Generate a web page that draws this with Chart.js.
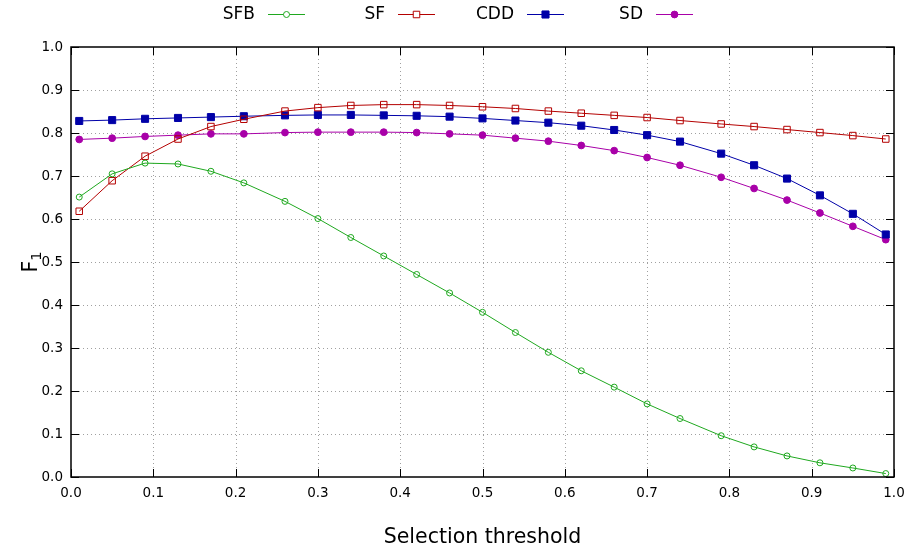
<!DOCTYPE html>
<html>
<head>
<meta charset="utf-8">
<script src="https://cdn.jsdelivr.net/npm/chart.js@4/dist/chart.umd.min.js"></script>
<style>
  html, body { margin: 0; padding: 0; background: #fff; }
  #wrap { width: 906px; height: 549px; position: relative; }
</style>
</head>
<body>
<div id="wrap"><canvas id="c" width="906" height="549"></canvas></div>
<script>
// ---- Data ----
const thresholds = [0.01, 0.05, 0.09, 0.13, 0.17, 0.21, 0.26, 0.30, 0.34, 0.38, 0.42, 0.46, 0.50, 0.54, 0.58, 0.62, 0.66, 0.70, 0.74, 0.79, 0.83, 0.87, 0.91, 0.95, 0.99];
const sfb = [0.651, 0.705, 0.730, 0.728, 0.711, 0.684, 0.641, 0.601, 0.557, 0.514, 0.471, 0.428, 0.383, 0.336, 0.290, 0.247, 0.209, 0.170, 0.136, 0.096, 0.070, 0.049, 0.033, 0.021, 0.008];
const sf  = [0.618, 0.689, 0.746, 0.786, 0.815, 0.832, 0.851, 0.859, 0.864, 0.866, 0.866, 0.864, 0.861, 0.857, 0.851, 0.846, 0.841, 0.836, 0.829, 0.821, 0.815, 0.808, 0.801, 0.794, 0.786];
const cdd = [0.828, 0.830, 0.833, 0.835, 0.837, 0.839, 0.841, 0.842, 0.842, 0.841, 0.840, 0.838, 0.834, 0.829, 0.824, 0.817, 0.807, 0.795, 0.780, 0.752, 0.725, 0.694, 0.655, 0.612, 0.564];
const sd  = [0.785, 0.788, 0.792, 0.795, 0.798, 0.798, 0.801, 0.802, 0.802, 0.802, 0.801, 0.798, 0.795, 0.788, 0.781, 0.771, 0.759, 0.743, 0.725, 0.697, 0.671, 0.644, 0.614, 0.583, 0.552];
const seriesNames = ['SFB', 'SF', 'CDD', 'SD'];
const xTitle = 'Selection threshold';
const yTitleMain = 'F';
const yTitleSub = '1';

const toPts = arr => arr.map((v, i) => ({ x: thresholds[i], y: v }));

const FONT = "'DejaVu Sans', sans-serif";

const styles = [
  { color: '#1fa81f', pointStyle: 'circle', radius: 3, fill: false },
  { color: '#b40000', pointStyle: 'rect', radius: 4.6, fill: false },
  { color: '#0000a8', pointStyle: 'rect', radius: 5, fill: true },
  { color: '#a800a8', pointStyle: 'circle', radius: 3.4, fill: true }
];
const seriesData = [sfb, sf, cdd, sd];

const datasets = seriesData.map((arr, i) => ({
  label: seriesNames[i],
  data: toPts(arr),
  borderColor: styles[i].color,
  backgroundColor: styles[i].fill ? styles[i].color : 'rgba(0,0,0,0)',
  pointBackgroundColor: styles[i].fill ? styles[i].color : '#ffffff00',
  pointBorderColor: styles[i].color,
  pointStyle: styles[i].pointStyle,
  pointRadius: styles[i].radius,
  pointBorderWidth: 1,
  borderWidth: 1,
  tension: 0,
  fill: false
}));

const framePlugin = {
  id: 'frame',
  beforeDatasetsDraw(chart) {
    const { ctx, chartArea: a, scales: { x, y } } = chart;
    ctx.save();
    ctx.strokeStyle = '#a0a0a0';
    ctx.lineWidth = 1;
    ctx.setLineDash([1, 3]);
    x.ticks.forEach(t => {
      if (t.value <= 0.0001 || t.value >= 0.9999) return;
      const px = Math.round(x.getPixelForValue(t.value)) + 0.5;
      ctx.beginPath(); ctx.moveTo(px, a.top); ctx.lineTo(px, a.bottom); ctx.stroke();
    });
    y.ticks.forEach(t => {
      if (t.value <= 0.0001 || t.value >= 0.9999) return;
      const py = Math.round(y.getPixelForValue(t.value)) + 0.5;
      ctx.beginPath(); ctx.moveTo(a.left, py); ctx.lineTo(a.right, py); ctx.stroke();
    });
    ctx.restore();
  },
  afterDatasetsDraw(chart) {
    const { ctx, chartArea: a, scales: { x, y } } = chart;
    ctx.save();
    ctx.strokeStyle = '#000';
    ctx.lineWidth = 1.5;
    ctx.setLineDash([]);
    ctx.strokeRect(a.left, a.top, a.right - a.left, a.bottom - a.top);
    ctx.lineWidth = 1;
    const tl = 8;
    x.ticks.forEach(t => {
      const px = Math.round(x.getPixelForValue(t.value)) + 0.5;
      ctx.beginPath();
      ctx.moveTo(px, a.bottom); ctx.lineTo(px, a.bottom - tl);
      ctx.moveTo(px, a.top); ctx.lineTo(px, a.top + tl);
      ctx.stroke();
    });
    y.ticks.forEach(t => {
      const py = Math.round(y.getPixelForValue(t.value)) + 0.5;
      ctx.beginPath();
      ctx.moveTo(a.left, py); ctx.lineTo(a.left + tl, py);
      ctx.moveTo(a.right, py); ctx.lineTo(a.right - tl, py);
      ctx.stroke();
    });

    // Axis titles
    ctx.fillStyle = '#000';
    ctx.font = '20.5px ' + FONT;
    ctx.textAlign = 'center';
    ctx.textBaseline = 'middle';
    ctx.fillText(xTitle, (a.left + a.right) / 2, 538);

    ctx.save();
    ctx.translate(30, (a.top + a.bottom) / 2);
    ctx.rotate(-Math.PI / 2);
    ctx.font = '20.5px ' + FONT;
    const wMain = ctx.measureText(yTitleMain).width;
    ctx.font = '14.5px ' + FONT;
    const wSub = ctx.measureText(yTitleSub).width;
    const total = wMain + wSub;
    ctx.textAlign = 'left';
    ctx.textBaseline = 'alphabetic';
    ctx.font = '20.5px ' + FONT;
    ctx.fillText(yTitleMain, -total / 2, 7);
    ctx.font = '14.5px ' + FONT;
    ctx.fillText(yTitleSub, -total / 2 + wMain, 11);
    ctx.restore();

    // Legend (gnuplot style: text then sample)
    const lineStarts = [268, 398, 527, 656];
    const ly = 14;
    chart.data.datasets.forEach((ds, i) => {
      const x0 = lineStarts[i];
      ctx.font = '17px ' + FONT;
      ctx.textAlign = 'right';
      ctx.textBaseline = 'middle';
      ctx.fillStyle = '#000';
      ctx.fillText(ds.label, x0 - 13, ly + 0.5);
      ctx.strokeStyle = ds.borderColor;
      ctx.lineWidth = 1;
      ctx.beginPath(); ctx.moveTo(x0, ly + 0.5); ctx.lineTo(x0 + 37, ly + 0.5); ctx.stroke();
      ctx.fillStyle = styles[i].fill ? ds.borderColor : '#ffffff';
      ctx.strokeStyle = ds.borderColor;
      ctx.beginPath();
      if (ds.pointStyle === 'circle') {
        ctx.arc(x0 + 18.5, ly + 0.5, ds.pointRadius, 0, Math.PI * 2);
      } else {
        const s = ds.pointRadius * Math.SQRT1_2;
        ctx.rect(x0 + 18.5 - s, ly + 0.5 - s, 2 * s, 2 * s);
      }
      ctx.fill(); ctx.stroke();
    });
    ctx.restore();
  }
};

new Chart(document.getElementById('c'), {
  type: 'line',
  data: { datasets },
  options: {
    responsive: false,
    animation: false,
    devicePixelRatio: 1,
    layout: { padding: { left: 0, top: 47, right: 12, bottom: 0 } },
    plugins: { legend: { display: false }, tooltip: { enabled: false } },
    scales: {
      x: {
        type: 'linear', min: 0, max: 1,
        grid: { display: false, drawTicks: false },
        border: { display: false },
        ticks: { stepSize: 0.1, padding: 8, color: '#000', font: { family: FONT, size: 13.5 }, callback: v => v.toFixed(1), maxRotation: 0 },
        afterFit: s => { s.height = 72; s.paddingRight = 0; s.paddingLeft = 0; }
      },
      y: {
        type: 'linear', min: 0, max: 1,
        grid: { display: false, drawTicks: false },
        border: { display: false },
        ticks: { stepSize: 0.1, padding: 8, color: '#000', font: { family: FONT, size: 13.5 }, callback: v => v.toFixed(1) },
        afterFit: s => { s.width = 71; s.paddingTop = 0; s.paddingBottom = 0; }
      }
    }
  },
  plugins: [framePlugin]
});
</script>
</body>
</html>
